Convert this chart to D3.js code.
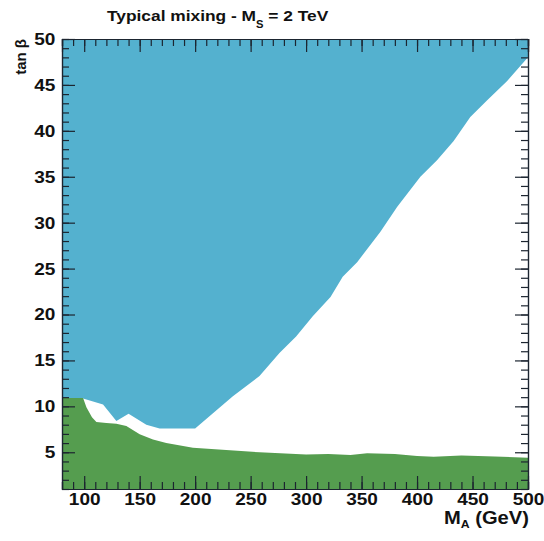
<!DOCTYPE html>
<html>
<head>
<meta charset="utf-8">
<script src="https://cdn.jsdelivr.net/npm/d3@7"></script>
<style>
  body { margin: 0; background: #fff; }
  text { font-family: "Liberation Sans", Arial, sans-serif; font-weight: bold; fill: #111; }
</style>
</head>
<body>
<div id="chart"></div>
<script>
// lower edge of the blue region, read right to left (M_A in GeV, tan beta)
const blueMA  = [500, 481, 463, 448, 433, 418, 403, 382, 367, 346, 333, 322, 306, 291, 276, 258, 234, 200, 168, 156, 140, 129, 117, 99, 80];
const blueTan = [48.0, 45.4, 43.3, 41.5, 38.9, 36.8, 35.0, 31.7, 29.0, 25.7, 24.1, 21.9, 19.8, 17.6, 15.8, 13.3, 11.1, 7.6, 7.6, 8.0, 9.2, 8.4, 10.2, 10.85, 10.9];

// upper edge of the green region, left to right
const greenMA  = [80, 99, 102, 107, 111, 120, 129, 138, 150, 162, 174, 198, 228, 258, 300, 320, 340, 355, 380, 400, 415, 440, 470, 500];
const greenTan = [10.9, 10.9, 9.9, 8.8, 8.3, 8.2, 8.1, 7.85, 6.95, 6.4, 6.0, 5.5, 5.25, 5.0, 4.77, 4.8, 4.7, 4.88, 4.8, 4.6, 4.5, 4.65, 4.55, 4.4];

const xTickLabels = [100, 150, 200, 250, 300, 350, 400, 450, 500];
const yTickLabels = [5, 10, 15, 20, 25, 30, 35, 40, 45, 50];

const width = 544, height = 541;
const plot = {left: 62, right: 528, top: 39, bottom: 489};
const stretch = 1.12;  // the original lettering is a bit wide

const svg = d3.select("#chart")
    .append("svg")
    .attr("width", width)
    .attr("height", height);

const x = d3.scaleLinear().domain([80, 500]).range([plot.left, plot.right]);
const y = d3.scaleLinear().domain([1, 50]).range([plot.bottom, plot.top]);

svg.append("clipPath").attr("id", "clip")
    .append("rect")
    .attr("x", plot.left).attr("y", plot.top)
    .attr("width", plot.right - plot.left)
    .attr("height", plot.bottom - plot.top);

const line = d3.line()
    .x(function(d) { return x(d[0]); })
    .y(function(d) { return y(d[1]); });

var bluePts = [[80, 50], [500, 50]].concat(blueMA.map(function(m, i) { return [m, blueTan[i]]; }));
var greenPts = greenMA.map(function(m, i) { return [m, greenTan[i]]; }).concat([[500, 1], [80, 1]]);

var g = svg.append("g").attr("clip-path", "url(#clip)");
g.append("path").attr("d", line(bluePts) + "Z").attr("fill", "#54b1cf");
g.append("path").attr("d", line(greenPts) + "Z").attr("fill", "#559d4f");

const axisColor = "#1c2530";

function styleAxis(sel) {
    sel.selectAll("path, line").attr("stroke", axisColor).attr("stroke-width", 1.2);
    sel.selectAll("text").style("font-size", "17px").attr("fill", "#111");
}

// bottom
svg.append("g")
    .attr("transform", `translate(0, ${plot.bottom})`)
    .call(d3.axisBottom(x).tickValues(xTickLabels).tickSizeInner(-13).tickSizeOuter(0).tickPadding(4))
    .call(styleAxis)
    .selectAll("text").attr("transform", `scale(${stretch},1)`);
svg.append("g")
    .attr("transform", `translate(0, ${plot.bottom})`)
    .call(d3.axisBottom(x).tickValues(d3.range(80, 501, 10)).tickSize(-7).tickFormat(""))
    .call(styleAxis);
// top
svg.append("g")
    .attr("transform", `translate(0, ${plot.top})`)
    .call(d3.axisTop(x).tickValues(xTickLabels).tickSize(-13).tickFormat(""))
    .call(styleAxis);
svg.append("g")
    .attr("transform", `translate(0, ${plot.top})`)
    .call(d3.axisTop(x).tickValues(d3.range(80, 501, 10)).tickSize(-7).tickFormat(""))
    .call(styleAxis);
// left
svg.append("g")
    .attr("transform", `translate(${plot.left}, 0)`)
    .call(d3.axisLeft(y).tickValues(yTickLabels).tickSizeInner(-13).tickSizeOuter(0).tickPadding(6))
    .call(styleAxis)
    .selectAll("text").attr("transform", `scale(${stretch},1)`);
svg.append("g")
    .attr("transform", `translate(${plot.left}, 0)`)
    .call(d3.axisLeft(y).tickValues(d3.range(1, 51, 1)).tickSize(-7).tickFormat(""))
    .call(styleAxis);
// right
svg.append("g")
    .attr("transform", `translate(${plot.right}, 0)`)
    .call(d3.axisRight(y).tickValues(yTickLabels).tickSize(-13).tickFormat(""))
    .call(styleAxis);
svg.append("g")
    .attr("transform", `translate(${plot.right}, 0)`)
    .call(d3.axisRight(y).tickValues(d3.range(1, 51, 1)).tickSize(-7).tickFormat(""))
    .call(styleAxis);

// title
var title = svg.append("text")
    .attr("transform", `translate(107, 21) scale(${stretch},1)`)
    .style("font-size", "15.5px");
title.append("tspan").text("Typical mixing - M");
title.append("tspan").attr("dy", 7).style("font-size", "10px").text("S");
title.append("tspan").attr("dy", -7).text(" = 2 TeV");

// x label
var xl = svg.append("text")
    .attr("transform", `translate(529, 524) scale(${stretch},1)`)
    .attr("text-anchor", "end")
    .style("font-size", "18px");
xl.append("tspan").text("M");
xl.append("tspan").attr("dy", 4).style("font-size", "11px").text("A");
xl.append("tspan").attr("dy", -4).text(" (GeV)");

// y label
svg.append("text")
    .attr("transform", "translate(26, 39) rotate(-90)")
    .attr("text-anchor", "end")
    .style("font-size", "15px")
    .text("tan β");
</script>
</body>
</html>
